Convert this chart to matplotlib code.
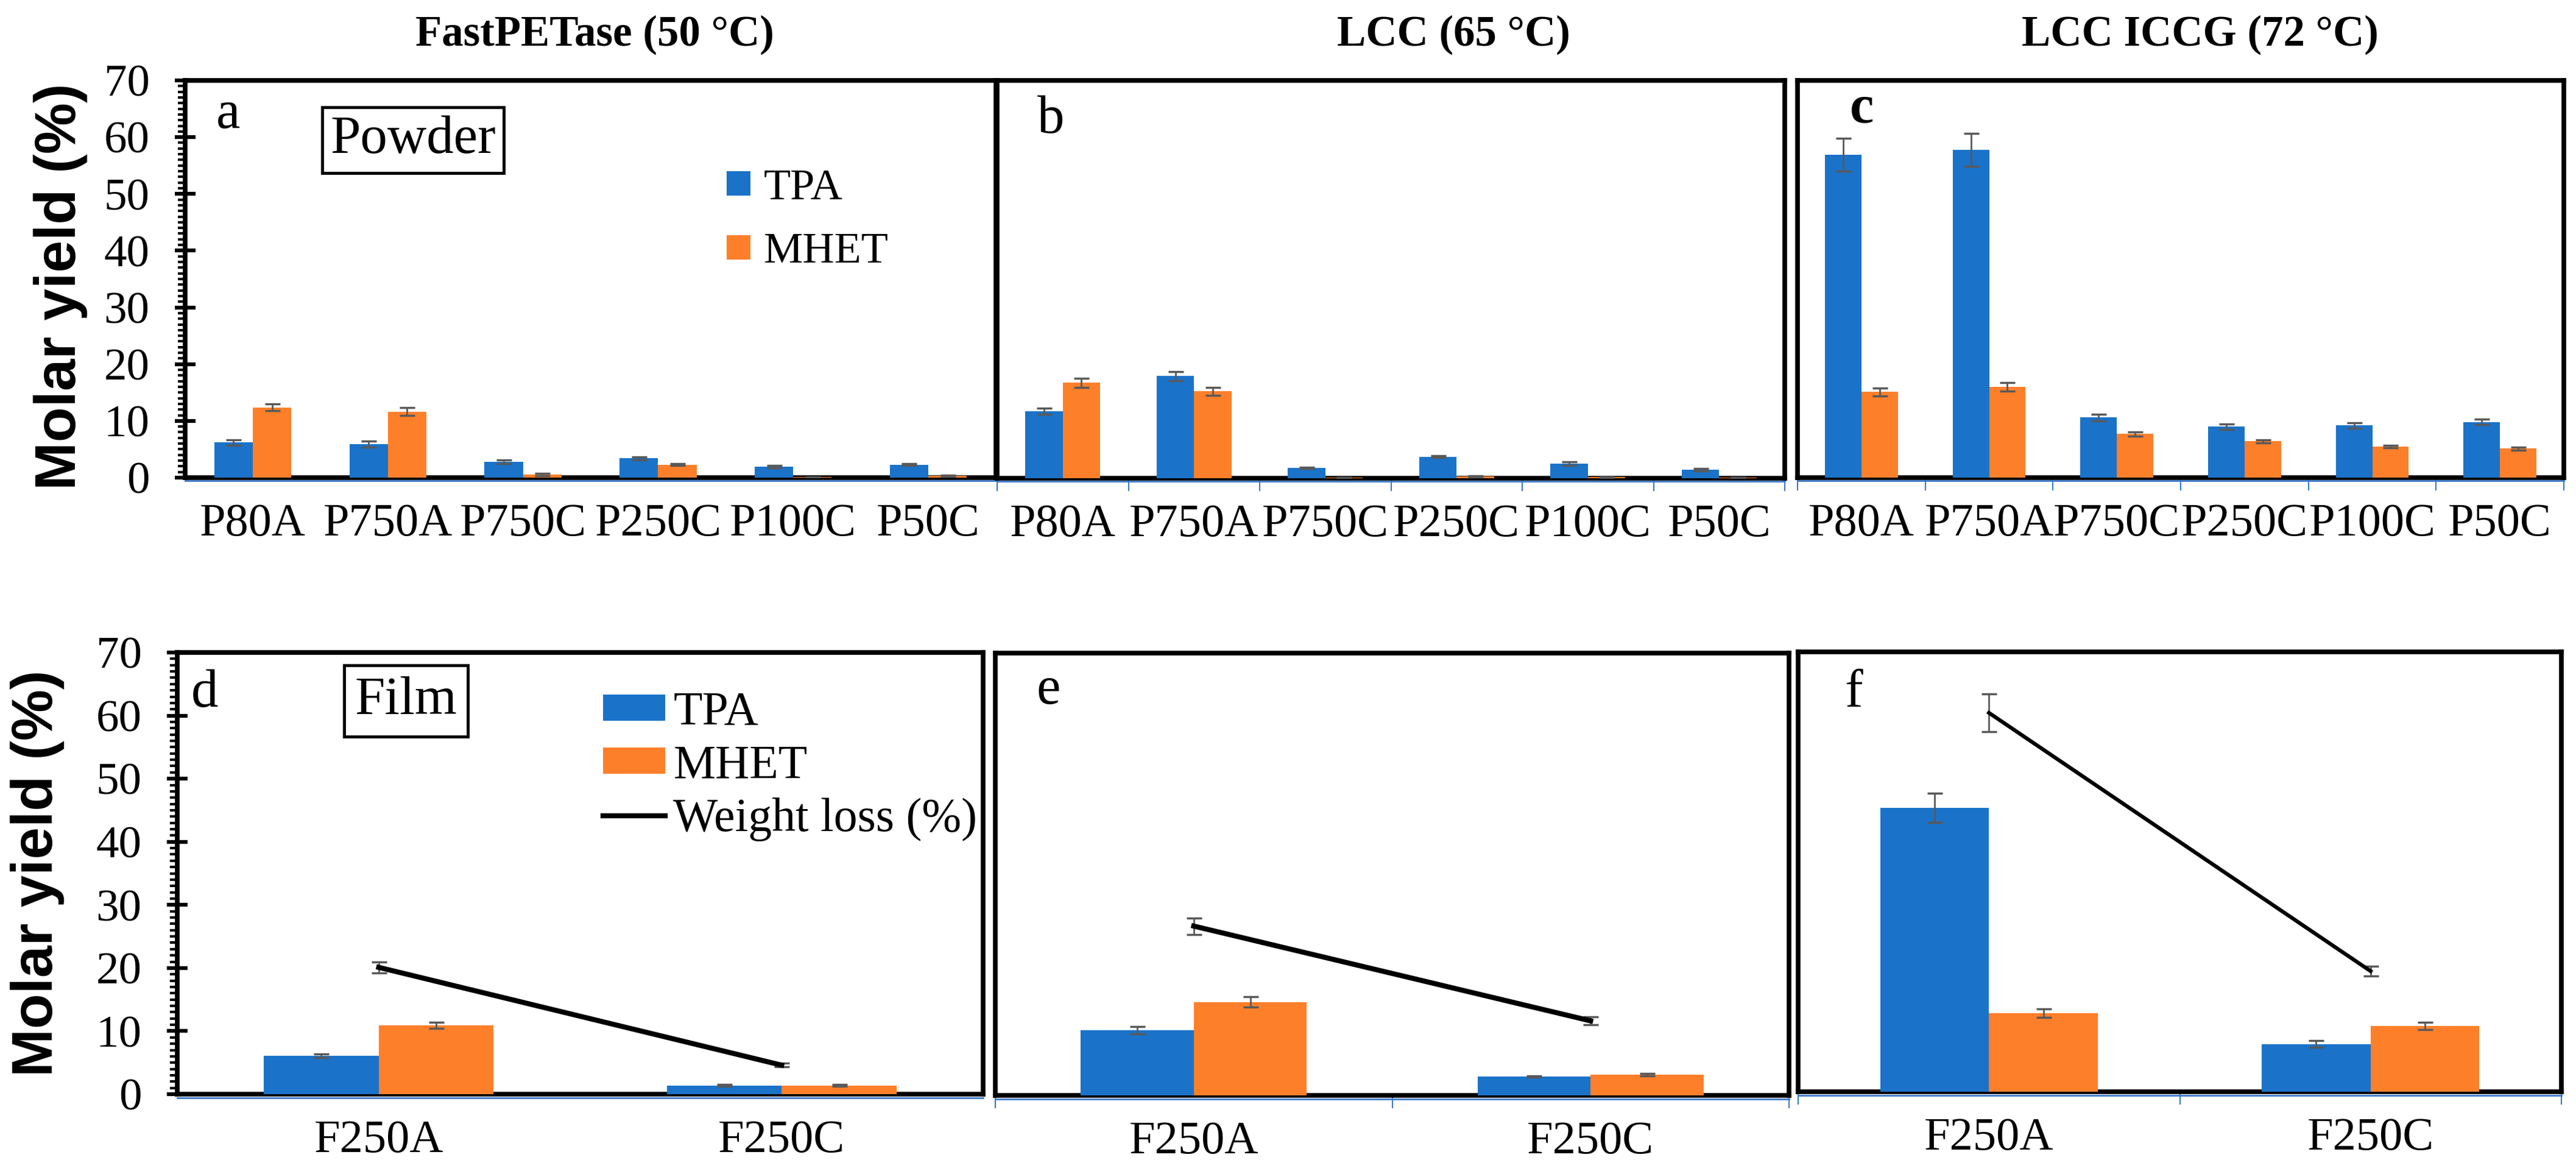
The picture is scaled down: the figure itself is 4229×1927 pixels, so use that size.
import numpy as np
import matplotlib
matplotlib.use('Agg')
import matplotlib.pyplot as plt

plt.rcParams['font.family'] = ['Liberation Serif', 'DejaVu Serif']

W, H = 4229, 1927

powder_cats = ['P80A', 'P750A', 'P750C', 'P250C', 'P100C', 'P50C']
film_cats = ['F250A', 'F250C']

# powder, FastPETase (50 C)
fast_tpa = [6.2, 5.9, 2.8, 3.4, 1.9, 2.3]
fast_tpa_err = [0.5, 0.5, 0.3, 0.3, 0.2, 0.2]
fast_mhet = [12.4, 11.6, 0.5, 2.3, 0.1, 0.3]
fast_mhet_err = [0.6, 0.7, 0.2, 0.2, 0.05, 0.1]

# powder, LCC (65 C)
lcc_tpa = [11.8, 18.0, 1.8, 3.8, 2.6, 1.5]
lcc_tpa_err = [0.5, 0.8, 0.1, 0.2, 0.3, 0.2]
lcc_mhet = [16.8, 15.3, 0.1, 0.3, 0.2, 0.1]
lcc_mhet_err = [0.8, 0.7, 0.0, 0.1, 0.05, 0.0]

# powder, LCC ICCG (72 C)
iccg_tpa = [56.9, 57.8, 10.6, 9.0, 9.2, 9.8]
iccg_tpa_err = [2.9, 2.9, 0.6, 0.5, 0.5, 0.5]
iccg_mhet = [15.1, 16.0, 7.7, 6.4, 5.5, 5.1]
iccg_mhet_err = [0.7, 0.8, 0.4, 0.3, 0.2, 0.3]

# film
fast_film_tpa = [6.1, 1.4]
fast_film_tpa_err = [0.3, 0.1]
fast_film_mhet = [10.9, 1.4]
fast_film_mhet_err = [0.5, 0.15]
fast_film_wl = [20.1, 4.6]
fast_film_wl_err = [0.9, 0.3]

lcc_film_tpa = [10.3, 3.0]
lcc_film_tpa_err = [0.6, 0.1]
lcc_film_mhet = [14.8, 3.3]
lcc_film_mhet_err = [0.8, 0.2]
lcc_film_wl = [26.8, 11.8]
lcc_film_wl_err = [1.3, 0.6]

iccg_film_tpa = [45.2, 7.6]
iccg_film_tpa_err = [2.3, 0.5]
iccg_film_mhet = [12.5, 10.5]
iccg_film_mhet_err = [0.7, 0.6]
iccg_film_wl = [60.3, 19.2]
iccg_film_wl_err = [3.0, 0.8]

BLUE = '#1a73c9'
ORANGE = '#fe7f2a'
GREY = '#595959'
AXBLUE = '#3a78c8'


def px_axes(left, right, top, bottom):
    return fig.add_axes([left / W, 1 - bottom / H, (right - left) / W, (bottom - top) / H])


def draw(ax, cats, tpa, tpa_err, mhet, mhet_err, wl=None, wl_err=None,
         yaxis=False, blue_ticks=True, wl_lw=6):
    n = len(cats)
    x = np.arange(n)
    bw = 0.285
    ekw = dict(ecolor=GREY, elinewidth=2, capsize=9, capthick=2.5)
    b1 = ax.bar(x - bw / 2, tpa, bw, color=BLUE, yerr=tpa_err, error_kw=ekw, zorder=3)
    b2 = ax.bar(x + bw / 2, mhet, bw, color=ORANGE, yerr=mhet_err, error_kw=ekw, zorder=3)
    line = None
    if wl is not None:
        eb = ax.errorbar(x, wl, yerr=wl_err, color='black', lw=wl_lw,
                         ecolor=GREY, elinewidth=2, capsize=9, capthick=2.5, zorder=4)
        line = eb[0]
    ax.set_xlim(-0.5, n - 0.5)
    ax.set_ylim(0, 70)
    ax.set_xticks(x)
    ax.set_xticklabels(cats)
    ax.tick_params(axis='x', which='major', length=0, pad=30, labelsize=55)
    if blue_ticks:
        ax.set_xticks(np.arange(n + 1) - 0.5, minor=True)
        ax.tick_params(axis='x', which='minor', direction='out', length=15,
                       width=1.5, color=AXBLUE)
    for s in ax.spines.values():
        s.set_linewidth(5.5)
        s.set_color('black')
    ax.plot([0, 1], [-0.008, -0.008], transform=ax.transAxes, color=AXBLUE,
            lw=2, clip_on=False, zorder=1)
    if yaxis:
        ax.set_yticks(np.arange(0, 71, 10))
        ax.set_yticks(np.arange(0, 71, 1), minor=True)
        ax.tick_params(axis='y', which='major', direction='inout', length=24,
                       width=4.5, pad=30, labelsize=54)
        ax.tick_params(axis='y', which='minor', direction='out', length=9, width=3)
    else:
        ax.set_yticks([])
    return b1, b2, line


fig = plt.figure(figsize=(W / 100, H / 100), dpi=100)

ax_a = px_axes(304, 1635, 132, 784)
ax_b = px_axes(1637, 2930, 132, 785)
ax_c = px_axes(2951, 4209, 132, 784)
ax_d = px_axes(291, 1614, 1071, 1796)
ax_e = px_axes(1634, 2937, 1072, 1798)
ax_f = px_axes(2952, 4205, 1070, 1792)

ba1, ba2, _ = draw(ax_a, powder_cats, fast_tpa, fast_tpa_err, fast_mhet, fast_mhet_err,
                   yaxis=True, blue_ticks=False)
draw(ax_b, powder_cats, lcc_tpa, lcc_tpa_err, lcc_mhet, lcc_mhet_err)
draw(ax_c, powder_cats, iccg_tpa, iccg_tpa_err, iccg_mhet, iccg_mhet_err)
bd1, bd2, ld = draw(ax_d, film_cats, fast_film_tpa, fast_film_tpa_err, fast_film_mhet,
                    fast_film_mhet_err, fast_film_wl, fast_film_wl_err,
                    yaxis=True, blue_ticks=False)
draw(ax_e, film_cats, lcc_film_tpa, lcc_film_tpa_err, lcc_film_mhet, lcc_film_mhet_err,
     lcc_film_wl, lcc_film_wl_err)
draw(ax_f, film_cats, iccg_film_tpa, iccg_film_tpa_err, iccg_film_mhet, iccg_film_mhet_err,
     iccg_film_wl, iccg_film_wl_err, wl_lw=4.5)

# legends
ax_a.legend([ba1, ba2], ['TPA', 'MHET'], loc='upper left', bbox_to_anchor=(0.668, 0.778),
            frameon=False, borderpad=0, borderaxespad=0, handlelength=0.54,
            handleheight=0.48, handletextpad=0.3, labelspacing=0.55, fontsize=52)
ax_d.legend([bd1, bd2, ld], ['TPA', 'MHET', 'Weight loss (%)'], loc='upper left',
            bbox_to_anchor=(0.528, 0.912), frameon=False, borderpad=0, borderaxespad=0,
            handlelength=1.32, handleheight=0.47, handletextpad=0.17, labelspacing=0.2,
            fontsize=56)

# boxed labels
ax_a.text(0.281, 0.85, 'Powder', transform=ax_a.transAxes, ha='center', va='center',
          fontsize=64, bbox=dict(boxstyle='square,pad=0.15', fc='white', ec='black', lw=3.5))
ax_d.text(0.284, 0.89, 'Film', transform=ax_d.transAxes, ha='center', va='center',
          fontsize=64, bbox=dict(boxstyle='square,pad=0.2', fc='white', ec='black', lw=3.5))

# panel letters
for ax, letter, xf, yf, wt in [(ax_a, 'a', 0.053, 0.880, 'normal'),
                               (ax_b, 'b', 0.068, 0.868, 'normal'),
                               (ax_c, 'c', 0.084, 0.894, 'bold'),
                               (ax_d, 'd', 0.034, 0.877, 'normal'),
                               (ax_e, 'e', 0.067, 0.886, 'normal'),
                               (ax_f, 'f', 0.073, 0.875, 'normal')]:
    ax.text(xf, yf, letter, transform=ax.transAxes, ha='center', va='baseline',
            fontsize=64, fontweight=wt)

# column titles
for xc, t in [(976, 'FastPETase (50 °C)'), (2386, 'LCC (65 °C)'), (3612, 'LCC ICCG (72 °C)')]:
    fig.text(xc / W, 1 - 57 / H, t, ha='center', va='center', fontsize=51, fontweight='bold')

# y labels
for xc, yc in [(100, 470), (62, 1433)]:
    fig.text(xc / W, 1 - yc / H, 'Molar yield (%)', rotation=90, ha='center', va='center',
             fontsize=68, fontweight='bold', family=['Liberation Sans', 'DejaVu Sans'])

fig.savefig('out.png', dpi=100)
